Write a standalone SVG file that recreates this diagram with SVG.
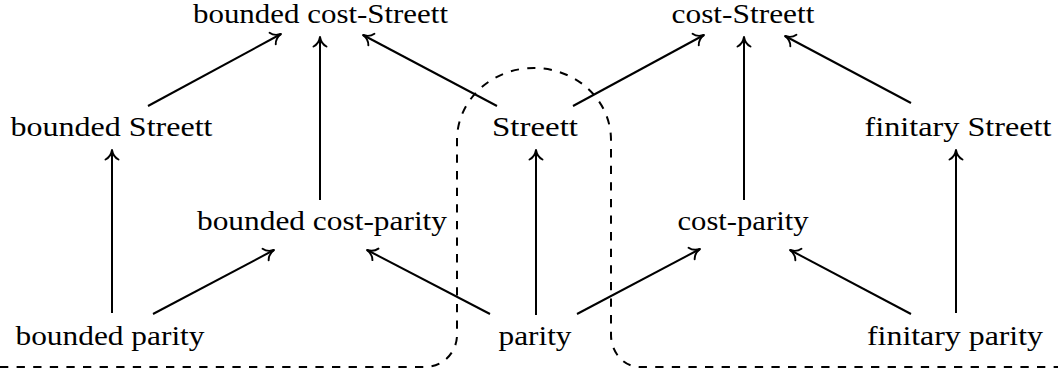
<svg xmlns="http://www.w3.org/2000/svg" width="1058" height="372" viewBox="0 0 1058 372">
<style>
  .lbl { font-family: "Liberation Serif", "Times New Roman", serif; font-size: 28px; fill: #000; text-anchor: middle; }
  .edge { stroke: #000; stroke-width: 2; fill: none; marker-end: url(#arr); }
  .region { stroke: #000; stroke-width: 2; fill: none; stroke-dasharray: 8.3 8.3; }
</style>
<defs>
  <marker id="arr" markerUnits="userSpaceOnUse" markerWidth="20" markerHeight="20" refX="0" refY="0" orient="auto" overflow="visible">
    <path d="M -9.5,-6.5 C -7.5,-2.5 -3.5,-0.6 0,0 C -3.5,0.6 -7.5,2.5 -9.5,6.5" fill="none" stroke="#000" stroke-width="1.9" stroke-linecap="round" stroke-linejoin="round"/>
  </marker>
</defs>
<rect width="1058" height="372" fill="#fff"/>

<path id="boundary" class="region" d="M 0,367 H 425 A 32,32 0 0 0 457,335 V 140 A 77,72 0 0 1 611,140 V 335 A 29,32 0 0 0 640,367 H 1058"/>

<g id="connectors">
  <line class="edge" x1="148" y1="106" x2="281" y2="34"/>
  <line class="edge" x1="320" y1="200" x2="320" y2="37"/>
  <line class="edge" x1="497" y1="106" x2="363" y2="35"/>
  <line class="edge" x1="573" y1="106" x2="704" y2="35"/>
  <line class="edge" x1="744" y1="200" x2="744" y2="37"/>
  <line class="edge" x1="911" y1="103" x2="785" y2="36"/>
  <line class="edge" x1="112" y1="313" x2="112" y2="150"/>
  <line class="edge" x1="153" y1="314" x2="274" y2="250"/>
  <line class="edge" x1="490" y1="314" x2="367" y2="250"/>
  <line class="edge" x1="536" y1="315" x2="536" y2="150"/>
  <line class="edge" x1="577" y1="314" x2="700" y2="249"/>
  <line class="edge" x1="911" y1="314" x2="790" y2="250"/>
  <line class="edge" x1="956" y1="313" x2="956" y2="150"/>
</g>

<g id="bounded-cost-streett"><text class="lbl" x="320.5" y="23" textLength="255" lengthAdjust="spacingAndGlyphs">bounded cost-Streett</text></g>
<g id="cost-streett"><text class="lbl" x="743" y="23" textLength="143" lengthAdjust="spacingAndGlyphs">cost-Streett</text></g>
<g id="bounded-streett"><text class="lbl" x="111.5" y="136" textLength="202" lengthAdjust="spacingAndGlyphs">bounded Streett</text></g>
<g id="streett"><text class="lbl" x="535" y="136" textLength="86" lengthAdjust="spacingAndGlyphs">Streett</text></g>
<g id="finitary-streett"><text class="lbl" x="958" y="136" textLength="187" lengthAdjust="spacingAndGlyphs">finitary Streett</text></g>
<g id="bounded-cost-parity"><text class="lbl" x="322" y="230" textLength="250" lengthAdjust="spacingAndGlyphs">bounded cost-parity</text></g>
<g id="cost-parity"><text class="lbl" x="743" y="230" textLength="131" lengthAdjust="spacingAndGlyphs">cost-parity</text></g>
<g id="bounded-parity"><text class="lbl" x="110" y="345" textLength="189" lengthAdjust="spacingAndGlyphs">bounded parity</text></g>
<g id="parity"><text class="lbl" x="535" y="345" textLength="73" lengthAdjust="spacingAndGlyphs">parity</text></g>
<g id="finitary-parity"><text class="lbl" x="955" y="345" textLength="176" lengthAdjust="spacingAndGlyphs">finitary parity</text></g>
</svg>
